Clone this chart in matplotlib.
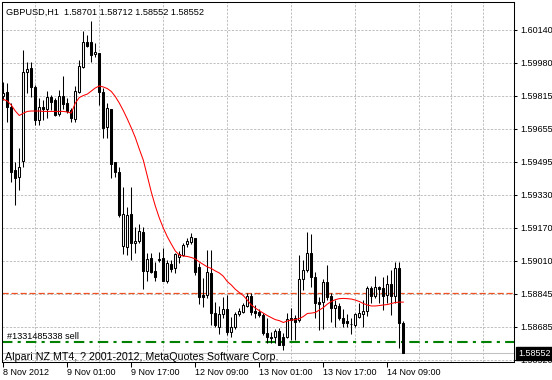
import matplotlib
matplotlib.use("Agg")
import matplotlib.pyplot as plt

# ---- DATA (GBPUSD H1) ----
opens = [1.59816, 1.59837, 1.59763, 1.59452, 1.59418, 1.59498, 1.59933, 1.59953, 1.59860, 1.59698,
         1.59762, 1.59752, 1.59811, 1.59796, 1.59727, 1.59817, 1.59781, 1.59747, 1.59703, 1.59837,
         1.59960, 1.60081, 1.60081, 1.60022, 1.60028, 1.59837, 1.59663, 1.59752, 1.59492, 1.59444,
         1.59081, 1.59076, 1.59236, 1.59094, 1.59104, 1.59148, 1.58958, 1.59020, 1.58958, 1.59015,
         1.59020, 1.58909, 1.58991, 1.58971, 1.59027, 1.59035, 1.59089, 1.59100, 1.59118, 1.58975,
         1.58839, 1.58839, 1.58948, 1.58750, 1.58681, 1.58745, 1.58770, 1.58658, 1.58681, 1.58745,
         1.58755, 1.58784, 1.58834, 1.58762, 1.58757, 1.58740, 1.58653, 1.58632, 1.58632, 1.58662,
         1.58634, 1.58632, 1.58725, 1.58725, 1.58716, 1.58917, 1.58961, 1.59045, 1.58928, 1.58806,
         1.58806, 1.58902, 1.58834, 1.58775, 1.58784, 1.58725, 1.58711, 1.58697, 1.58692, 1.58732,
         1.58745, 1.58760, 1.58873, 1.58835, 1.58879, 1.58873, 1.58839, 1.58893, 1.58835, 1.58971,
         1.58701]
highs = [1.59886, 1.59879, 1.59781, 1.59493, 1.59560, 1.60042, 1.59984, 1.59984, 1.59870, 1.59806,
         1.59796, 1.59840, 1.59821, 1.59806, 1.59845, 1.59914, 1.59806, 1.59757, 1.59865, 1.59992,
         1.60136, 1.60115, 1.60186, 1.60076, 1.60028, 1.59855, 1.59781, 1.59752, 1.59492, 1.59467,
         1.59370, 1.59272, 1.59370, 1.59174, 1.59187, 1.59174, 1.59046, 1.59045, 1.59002, 1.59050,
         1.59069, 1.59011, 1.59011, 1.59046, 1.59056, 1.59095, 1.59120, 1.59143, 1.59118, 1.58997,
         1.58922, 1.59060, 1.59060, 1.58806, 1.58786, 1.58830, 1.58839, 1.58732, 1.58755, 1.58775,
         1.58799, 1.58848, 1.58848, 1.58789, 1.58770, 1.58752, 1.58725, 1.58658, 1.58672, 1.58676,
         1.58652, 1.58750, 1.58775, 1.58740, 1.59035, 1.59011, 1.59148, 1.59138, 1.58953, 1.58830,
         1.58917, 1.58986, 1.58850, 1.58814, 1.58799, 1.58770, 1.58745, 1.58725, 1.58750, 1.58799,
         1.58814, 1.58883, 1.58884, 1.58932, 1.58884, 1.58928, 1.58937, 1.58961, 1.59002, 1.59002,
         1.58712]
lows = [1.59796, 1.59689, 1.59395, 1.59280, 1.59354, 1.59469, 1.59830, 1.59812, 1.59673, 1.59673,
        1.59698, 1.59708, 1.59747, 1.59717, 1.59717, 1.59752, 1.59732, 1.59689, 1.59689, 1.59830,
        1.59953, 1.60058, 1.59983, 1.60007, 1.59771, 1.59609, 1.59609, 1.59411, 1.59418, 1.59223,
        1.59040, 1.59035, 1.59011, 1.59046, 1.59094, 1.58868, 1.58909, 1.58947, 1.58909, 1.59002,
        1.58909, 1.58899, 1.58953, 1.58947, 1.58996, 1.59030, 1.59076, 1.59089, 1.58937, 1.58794,
        1.58781, 1.58824, 1.58691, 1.58683, 1.58647, 1.58725, 1.58642, 1.58634, 1.58672, 1.58735,
        1.58750, 1.58781, 1.58740, 1.58725, 1.58732, 1.58642, 1.58603, 1.58604, 1.58603, 1.58593,
        1.58569, 1.58627, 1.58618, 1.58618, 1.58707, 1.58863, 1.58951, 1.58879, 1.58725, 1.58667,
        1.58672, 1.58814, 1.58707, 1.58683, 1.58716, 1.58680, 1.58680, 1.58647, 1.58680, 1.58725,
        1.58683, 1.58735, 1.58799, 1.58824, 1.58799, 1.58765, 1.58799, 1.58740, 1.58799, 1.58578,
        1.58552]
closes = [1.59832, 1.59763, 1.59444, 1.59413, 1.59467, 1.59933, 1.59948, 1.59861, 1.59698, 1.59762,
          1.59752, 1.59811, 1.59788, 1.59722, 1.59817, 1.59776, 1.59743, 1.59708, 1.59840, 1.59963,
          1.60081, 1.60063, 1.60017, 1.60032, 1.59835, 1.59659, 1.59757, 1.59483, 1.59444, 1.59231,
          1.59236, 1.59231, 1.59095, 1.59104, 1.59153, 1.58958, 1.59015, 1.58953, 1.58928, 1.59013,
          1.58909, 1.58996, 1.58966, 1.59040, 1.59040, 1.59084, 1.59104, 1.59123, 1.58953, 1.58830,
          1.58827, 1.58952, 1.58752, 1.58691, 1.58745, 1.58770, 1.58658, 1.58681, 1.58745, 1.58760,
          1.58789, 1.58834, 1.58757, 1.58752, 1.58740, 1.58652, 1.58631, 1.58630, 1.58662, 1.58593,
          1.58593, 1.58721, 1.58716, 1.58707, 1.58917, 1.58961, 1.59045, 1.58928, 1.58801, 1.58794,
          1.58902, 1.58830, 1.58775, 1.58789, 1.58725, 1.58702, 1.58702, 1.58695, 1.58745, 1.58750,
          1.58760, 1.58873, 1.58835, 1.58879, 1.58868, 1.58834, 1.58893, 1.58835, 1.58971, 1.58701,
          1.58552]
ma = [1.59799, 1.59791, 1.59771, 1.59742, 1.59720, 1.59731, 1.59740, 1.59742, 1.59742, 1.59742,
      1.59740, 1.59740, 1.59740, 1.59740, 1.59740, 1.59740, 1.59737, 1.59732, 1.59781, 1.59808,
      1.59818, 1.59825, 1.59840, 1.59855, 1.59865, 1.59860, 1.59852, 1.59838, 1.59813, 1.59781,
      1.59744, 1.59703, 1.59659, 1.59612, 1.59555, 1.59501, 1.59423, 1.59344, 1.59276, 1.59217,
      1.59168, 1.59125, 1.59089, 1.59055, 1.59035, 1.59030, 1.59028, 1.59023, 1.59016, 1.59001,
      1.58989, 1.58977, 1.58969, 1.58957, 1.58947, 1.58931, 1.58905, 1.58888, 1.58867, 1.58851,
      1.58836, 1.58814, 1.58790, 1.58775, 1.58762, 1.58750, 1.58738, 1.58728, 1.58718, 1.58713,
      1.58704, 1.58711, 1.58716, 1.58718, 1.58723, 1.58733, 1.58748, 1.58750, 1.58753, 1.58765,
      1.58777, 1.58794, 1.58807, 1.58816, 1.58821, 1.58822, 1.58821, 1.58819, 1.58814, 1.58807,
      1.58797, 1.58790, 1.58785, 1.58785, 1.58787, 1.58790, 1.58792, 1.58797, 1.58802, 1.58804,
      1.58804]

price_ticks = [1.60140, 1.59978, 1.59816, 1.59654, 1.59492, 1.59330,
               1.59168, 1.59006, 1.58844, 1.58682, 1.58520]
price_labels = ["1.60140", "1.59980", "1.59815", "1.59655", "1.59495", "1.59330",
                "1.59170", "1.59010", "1.58845", "1.58685", "1.58520"]
time_ticks = [0, 16, 32, 48, 64, 80, 96]
time_labels = ["8 Nov 2012", "9 Nov 01:00", "9 Nov 17:00", "12 Nov 09:00",
               "13 Nov 01:00", "13 Nov 17:00", "14 Nov 09:00"]

title = "GBPUSD,H1  1.58701 1.58712 1.58552 1.58552"
order_label = "#1331485338 sell"
copyright_text = "Alpari NZ MT4, ? 2001-2012, MetaQuotes Software Corp."
order_price = 1.58609
stop_price = 1.58847
bid_price = 1.58552

# ---- PLOT ----
plt.rcParams['font.family'] = ['Liberation Sans', 'DejaVu Sans']
W, H = 552, 380
fig = plt.figure(figsize=(W / 100, H / 100), dpi=100)
ax = fig.add_axes([2 / W, 18 / H, 512 / W, 360 / H])
ax.set_xlim(-0.325, 127.675)
ax.set_ylim(1.58510, 1.60277)

def px(x, y):
    return x / W, 1 - y / H

grid_kw = dict(color='#c0c0c0', linewidth=0.72, linestyle=(0, (2.2, 1.5)))
ax.set_xticks(range(0, 121, 8), minor=True)
ax.grid(which='minor', axis='x', **grid_kw)
ax.grid(which='major', axis='y', **grid_kw)
ax.set_axisbelow(True)

idx = list(range(len(opens)))
ax.vlines(idx, lows, highs, color='black', linewidth=0.75, zorder=3)
for i in idx:
    o, c = opens[i], closes[i]
    face = 'white' if c >= o else 'black'
    ax.bar(i, max(abs(c - o), 0.000001), bottom=min(o, c), width=0.5,
           facecolor=face, edgecolor='black', linewidth=0.75, zorder=4)

ax.plot(idx, ma, color='#ff0000', linewidth=0.75, zorder=5)

ax.axhline(bid_price, color='#c0c0c0', linewidth=0.75, zorder=2)
ax.axhline(stop_price, color='#f05020', linewidth=0.9, linestyle=(0, (5, 2.2)), zorder=2.5)
ax.axhline(order_price, color='#008000', linewidth=1.5, linestyle=(0, (5, 2.5, 1.5, 2.5)), zorder=2)

for s in ax.spines.values():
    s.set_linewidth(0.75)
    s.set_color('black')

ax.yaxis.tick_right()
ax.set_yticks(price_ticks)
ax.set_yticklabels(price_labels)
ax.tick_params(axis='y', length=2.5, width=0.75, pad=2, labelsize=6.5)
ax.set_xticks(time_ticks)
ax.set_xticklabels(time_labels)
ax.tick_params(axis='x', which='major', length=3.6, width=0.75, pad=1, labelsize=6.5)
ax.tick_params(axis='x', which='minor', length=0)
for lab in ax.get_xticklabels():
    lab.set_horizontalalignment('left')

fig.text(*px(6.5, 15), title, fontsize=6.6, va='baseline', ha='left')
fig.text(*px(7, 339), order_label, fontsize=6.6, va='baseline', ha='left')
fig.text(*px(5.5, 359.5), copyright_text, fontsize=7.7, va='baseline', ha='left')
fig.text(*px(518, 353.5), "1.58552", fontsize=6.5, color='white', va='center', ha='left',
         bbox=dict(facecolor='black', edgecolor='black', pad=1.2), zorder=10)

plt.savefig("out.png", dpi=100)
